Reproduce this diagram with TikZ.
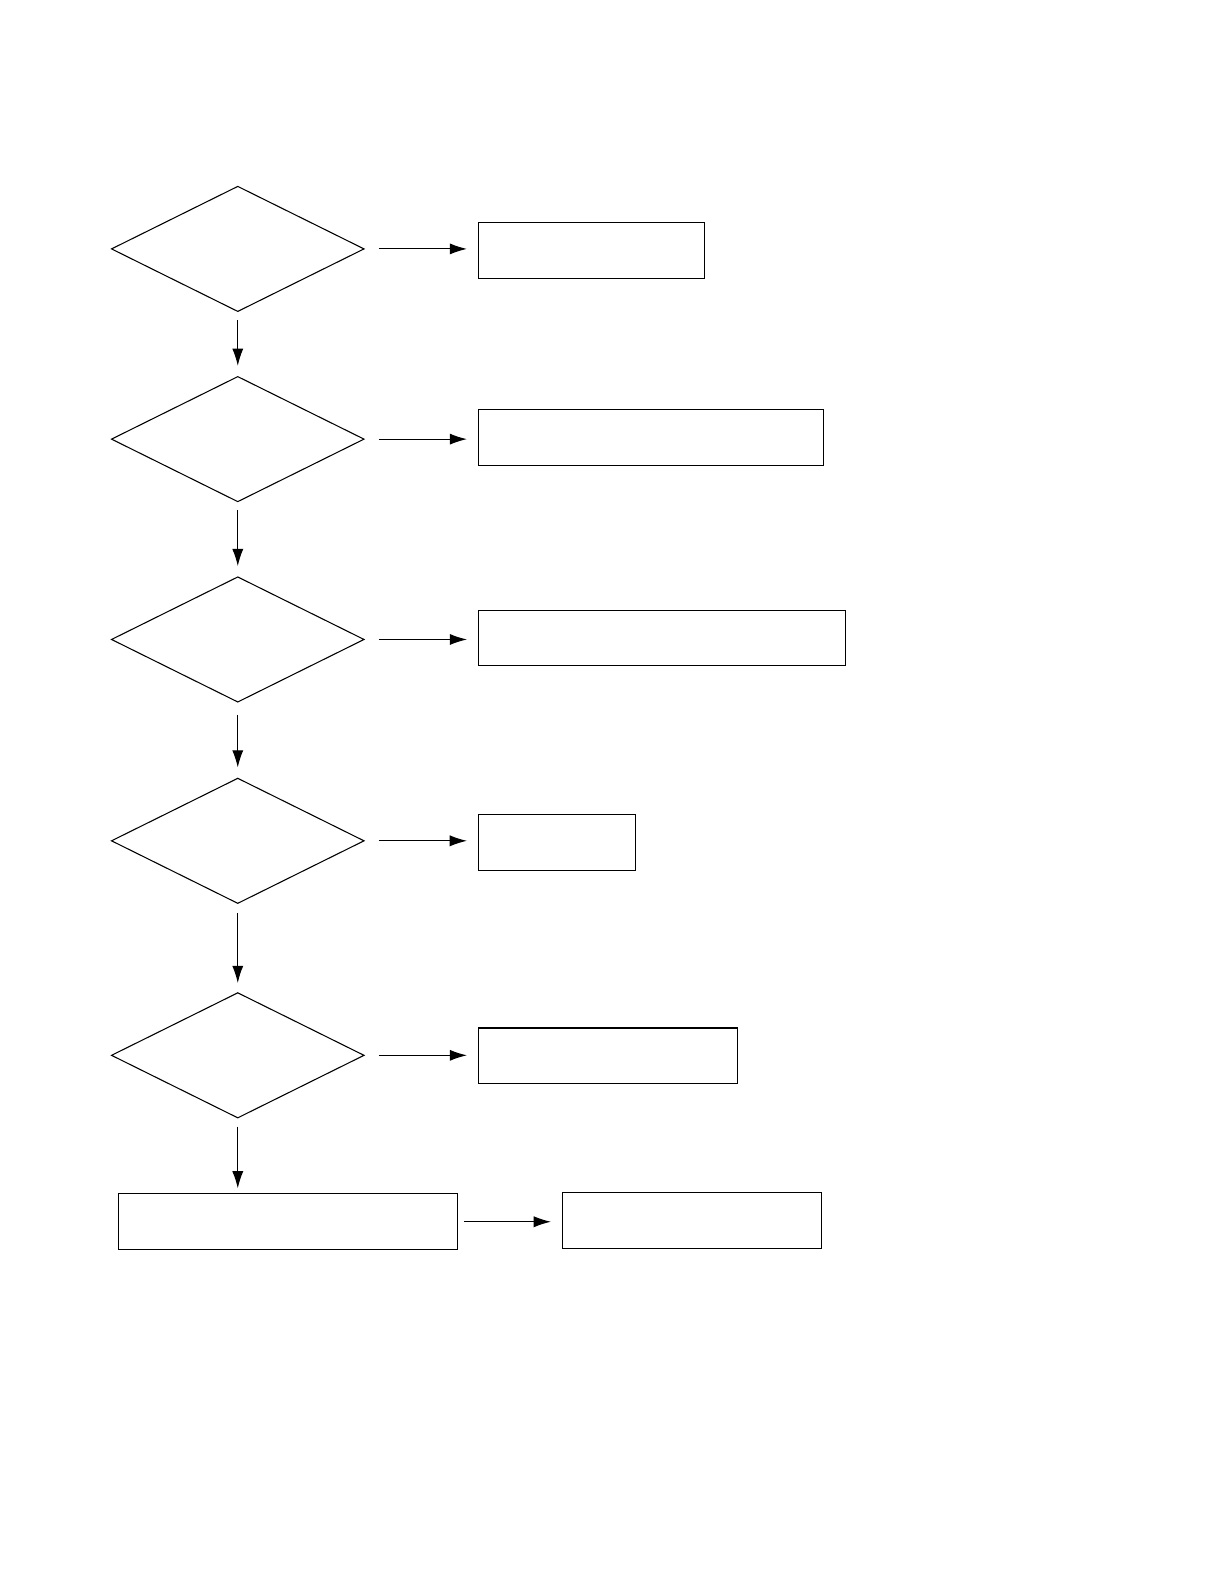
\documentclass[tikz,border=0pt]{standalone}
\usetikzlibrary{shapes.geometric,arrows.meta}
\begin{document}
\begin{tikzpicture}[x=0.02cm, y=-0.02cm, line width=0.6pt,
    test/.style={diamond, draw, inner sep=0pt, minimum width=5cm, minimum height=2.48cm},
    stepbox/.style={rectangle, draw, inner sep=0pt, minimum height=1.1cm},
    arr/.style={-{Latex[length=3.4mm,width=2.2mm]}, shorten <=0.16cm, shorten >=0.2cm}]
\useasboundingbox (0,0) rectangle (1211,1566.5);
    % decisions
    \node[test] (d1) at (235,246) {};
    \node[test] (d2) at (235,434) {};
    \node[test] (d3) at (235,632) {};
    \node[test] (d4) at (235,831) {};
    \node[test] (d5) at (235,1043) {};
    % actions
    \node[stepbox, minimum width=4.46cm] (b1) at (584.5,247.5) {};
    \node[stepbox, minimum width=6.82cm] (b2) at (643.5,432.5) {};
    \node[stepbox, minimum width=7.26cm] (b3) at (654.5,630.5) {};
    \node[stepbox, minimum width=3.1cm] (b4) at (550.5,832.5) {};
    \node[stepbox, minimum width=5.12cm] (b5) at (601,1043.5) {};
    \node[stepbox, minimum width=6.7cm] (b6) at (284.5,1207.5) {};
    \node[stepbox, minimum width=5.12cm] (b7) at (684,1206.5) {};
    % flow down
    \draw[arr] (d1.south) -- (d2.north);
    \draw[arr] (d2.south) -- (d3.north);
    \draw[arr, shorten <=0.24cm] (d3.south) -- (d4.north);
    \draw[arr, shorten <=0.18cm, shorten >=0.18cm] (d4.south) -- (d5.north);
    \draw[arr, shorten >=0.1cm] (d5.south) -- (d5.south |- b6.north);
    % flow right
    \foreach \i in {1,...,5}
        \draw[arr, shorten <=0.28cm, shorten >=0.22cm] (d\i.east) -- (d\i.east -| b\i.west);
    \draw[arr, shorten <=0.12cm, shorten >=0.22cm] (b6.east) -- (b6.east -| b7.west);
\end{tikzpicture}
\end{document}
